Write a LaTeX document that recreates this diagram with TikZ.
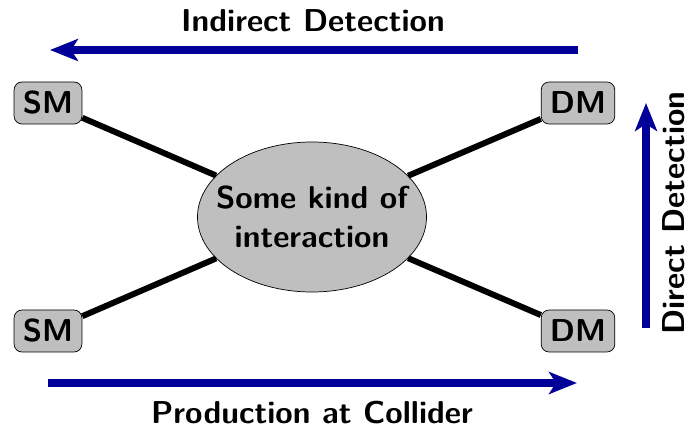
\documentclass[tikz,border=0pt]{standalone}
\usepackage{xcolor}
\usepackage{tikz}
\usetikzlibrary{shapes.geometric,arrows.meta}

\begin{document}
\begin{tikzpicture}[
  font=\sffamily\bfseries\fontsize{18}{22}\selectfont,
  particle/.style={draw,fill=black!25,rounded corners=4.5pt,inner xsep=5pt,minimum height=0.84cm},
  blob/.style={draw,ellipse,fill=black!25,align=center,minimum width=4.58cm,minimum height=3cm,inner xsep=-0.3cm,inner ysep=0pt},
  link/.style={line width=3.4pt},
  detarrow/.style={line width=4.3pt,blue!60!black,-{Stealth[length=0.56cm,width=0.44cm,inset=0.14cm]}}
]
\useasboundingbox (-6.24,-4.30) rectangle (7.54,4.34);
\node[blob] (blob) at (0,0) {Some kind of\\interaction};
\node[particle] (smtop) at (-5.28,2.28) {SM};
\node[particle] (smbot) at (-5.28,-2.28) {SM};
\node[particle] (dmtop) at (5.32,2.28) {DM};
\node[particle] (dmbot) at (5.32,-2.28) {DM};
\draw[link] (smtop) -- (blob);
\draw[link] (smbot) -- (blob);
\draw[link] (dmtop) -- (blob);
\draw[link] (dmbot) -- (blob);
% detection channels
\coordinate (ind1) at (5.32,3.34);
\coordinate (ind2) at (-5.24,3.34);
\coordinate (col1) at (-5.28,-3.32);
\coordinate (col2) at (5.30,-3.32);
\coordinate (dir1) at (6.68,-2.22);
\coordinate (dir2) at (6.68,2.28);
\draw[detarrow] (ind1) -- (ind2);
\draw[detarrow] (col1) -- (col2);
\draw[detarrow] (dir1) -- (dir2);
\node[anchor=base] (indlabel) at (0.02,3.70) {Indirect Detection};
\node[anchor=base] (collabel) at (0,-4.12) {Production at Collider};
\node[anchor=base,rotate=90] (dirlabel) at (7.44,0.08) {Direct Detection};
\end{tikzpicture}
\end{document}
